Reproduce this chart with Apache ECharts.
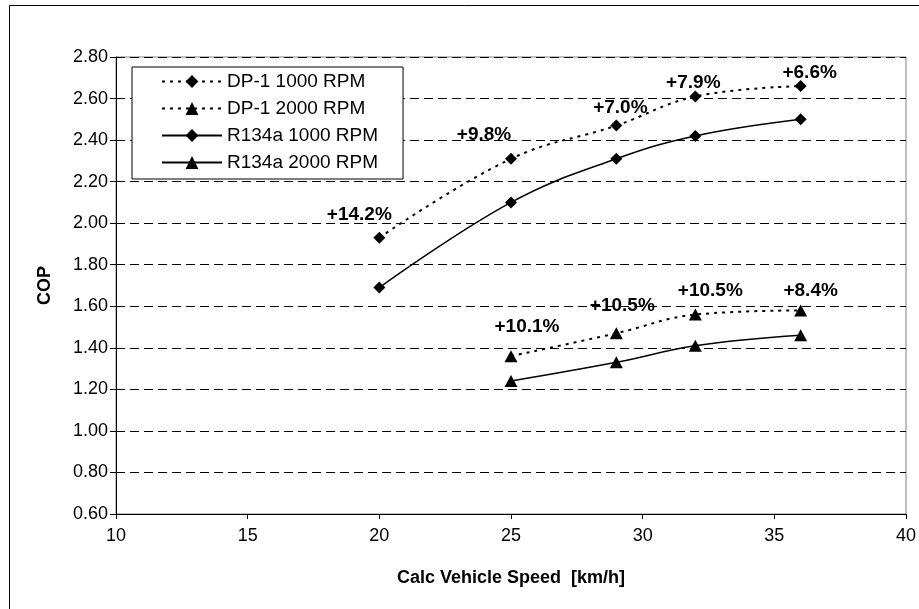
<!DOCTYPE html>
<html>
<head>
<meta charset="utf-8">
<script src="https://cdn.jsdelivr.net/npm/echarts@6/dist/echarts.min.js"></script>
<style>
html,body{margin:0;padding:0;background:#fff;}
#chart{width:919px;height:609px;}
</style>
</head>
<body>
<div id="chart"></div>
<script>
// ---- data ----
const speeds1000 = [20, 25, 29, 32, 36];
const speeds2000 = [25, 29, 32, 36];
const dp1_1000 = [1.93, 2.31, 2.47, 2.61, 2.66];
const dp1_2000 = [1.36, 1.47, 1.56, 1.58];
const r134a_1000 = [1.69, 2.10, 2.31, 2.42, 2.50];
const r134a_2000 = [1.24, 1.33, 1.41, 1.46];
const gain1000 = ['+14.2%', '+9.8%', '+7.0%', '+7.9%', '+6.6%'];
const gain2000 = ['+10.1%', '+10.5%', '+10.5%', '+8.4%'];
const seriesNames = ['DP-1 1000 RPM', 'DP-1 2000 RPM', 'R134a 1000 RPM', 'R134a 2000 RPM'];
const xTitle = 'Calc Vehicle Speed  [km/h]';
const yTitle = 'COP';

// ---- label placement (style, not data) ----
const off1000 = [[-20, -23], [-27, -24], [4, -18], [-2, -14], [9, -13]];
const off2000 = [[16, -29], [6, -28], [15, -24], [10, -20]];

const FONT = 'Arial, "Liberation Sans", sans-serif';

function pairs(xs, ys, labels, offs) {
  return xs.map((x, i) => {
    const item = { value: [x, ys[i]] };
    if (labels) {
      item.label = { show: true, formatter: labels[i], offset: offs[i] };
    }
    return item;
  });
}

const labelBase = {
  show: false,
  position: 'inside',
  color: '#000',
  fontFamily: FONT,
  fontWeight: 'bold',
  fontSize: 19
};

const dotted = { color: '#000', width: 2, type: [3, 5] };
const solid = { color: '#000', width: 1.5, type: 'solid' };

const chart = echarts.init(document.getElementById('chart'), null, { renderer: 'canvas' });
chart.setOption({
  backgroundColor: '#fff',
  animation: false,
  graphic: [{
    type: 'rect',
    shape: { x: 9.5, y: 5.5, width: 1000, height: 1000 },
    style: { fill: 'none', stroke: '#000', lineWidth: 1 },
    silent: true,
    z: -1
  }],
  grid: {
    left: 116, right: 6, top: 57, bottom: 95,
    show: true, borderColor: '#808080', borderWidth: 1, backgroundColor: 'transparent'
  },
  legend: {
    left: 132, top: 67,
    orient: 'vertical',
    backgroundColor: '#fff',
    borderColor: '#000', borderWidth: 1,
    padding: [5, 25, 7, 29],
    itemWidth: 60, itemHeight: 16, itemGap: 8,
    textStyle: { color: '#000', fontFamily: FONT, fontSize: 19, lineHeight: 19 },
    data: seriesNames
  },
  xAxis: {
    type: 'value', min: 10, max: 40, interval: 5,
    name: xTitle, nameLocation: 'middle', nameGap: 55,
    nameTextStyle: { color: '#000', fontFamily: FONT, fontWeight: 'bold', fontSize: 18 },
    axisLine: { show: true, lineStyle: { color: '#000', width: 1 } },
    axisTick: { show: true, length: 5, lineStyle: { color: '#000' } },
    axisLabel: { color: '#000', fontFamily: FONT, fontSize: 18, margin: 13 },
    splitLine: { show: false }
  },
  yAxis: {
    type: 'value', min: 0.6, max: 2.8, interval: 0.2,
    name: yTitle, nameLocation: 'middle', nameGap: 62, nameRotate: 90,
    nameTextStyle: { color: '#000', fontFamily: FONT, fontWeight: 'bold', fontSize: 18 },
    axisLine: { show: true, lineStyle: { color: '#000', width: 1 } },
    axisTick: { show: true, length: 6, lineStyle: { color: '#000' } },
    axisLabel: { color: '#000', fontFamily: FONT, fontSize: 18, margin: 8,
      formatter: v => v.toFixed(2) },
    splitLine: { show: true, lineStyle: { color: '#000', width: 1, type: [9, 5] } }
  },
  series: [
    {
      name: seriesNames[0], type: 'line', smooth: 0.4,
      data: pairs(speeds1000, dp1_1000, gain1000, off1000),
      symbol: 'diamond', symbolSize: 12,
      itemStyle: { color: '#000' }, lineStyle: dotted, label: labelBase, z: 3
    },
    {
      name: seriesNames[1], type: 'line', smooth: 0.4,
      data: pairs(speeds2000, dp1_2000, gain2000, off2000),
      symbol: 'triangle', symbolSize: [13, 12],
      itemStyle: { color: '#000' }, lineStyle: dotted, label: labelBase, z: 3
    },
    {
      name: seriesNames[2], type: 'line', smooth: 0.4,
      data: pairs(speeds1000, r134a_1000),
      symbol: 'diamond', symbolSize: 12,
      itemStyle: { color: '#000' }, lineStyle: solid, z: 3
    },
    {
      name: seriesNames[3], type: 'line', smooth: 0.4,
      data: pairs(speeds2000, r134a_2000),
      symbol: 'triangle', symbolSize: [13, 12],
      itemStyle: { color: '#000' }, lineStyle: solid, z: 3
    }
  ]
});
</script>
</body>
</html>
